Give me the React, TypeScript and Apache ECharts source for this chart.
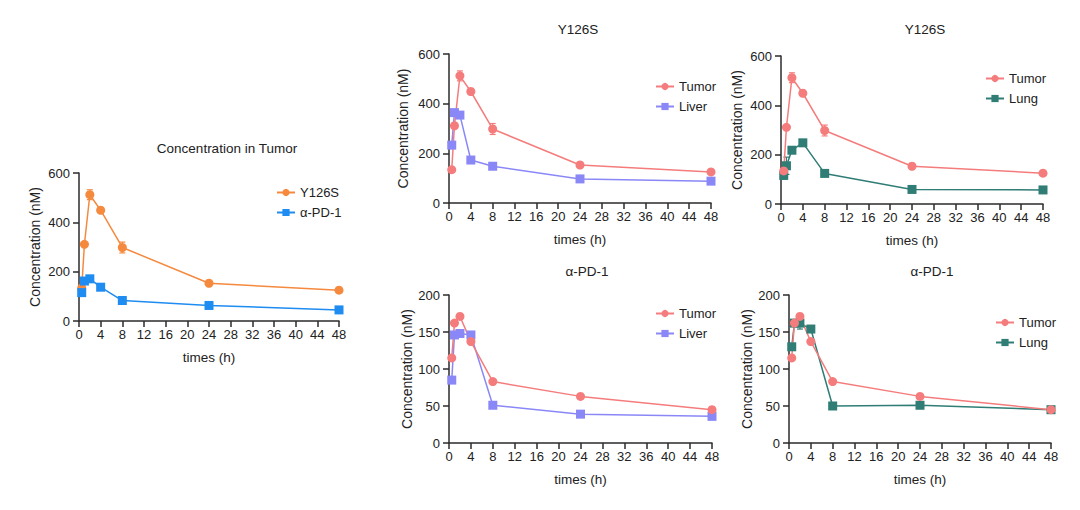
import React, { useEffect, useRef } from "react";
import * as echarts from "echarts";

const times = [0.5, 1, 2, 4, 8, 24, 48];
const xTicks = [0, 4, 8, 12, 16, 20, 24, 28, 32, 36, 40, 44, 48];

const y126sTumor = [134, 311, 512, 449, 298, 153, 125];
const y126sTumorErr = [8, 8, 20, 10, 22, 5, 5];
const pd1Tumor = [115, 162, 171, 137, 83, 63, 45];
const pd1TumorErr = [3, 3, 4, 3, 2, 2, 2];
const y126sLiver = [233, 364, 354, 173, 148, 97, 88];
const y126sLiverErr = [10, 8, 12, 6, 5, 3, 3];
const y126sLung = [116, 155, 218, 248, 124, 59, 57];
const y126sLungErr = [15, 35, 10, 8, 5, 3, 3];
const pd1Liver = [85, 146, 148, 146, 51, 39, 36];
const pd1LiverErr = [3, 3, 3, 3, 2, 2, 2];
const pd1Lung = [130, 162, 162, 154, 50, 51, 45];
const pd1LungErr = [4, 4, 8, 3, 2, 2, 2];

const titles = ["Concentration in Tumor", "Y126S", "Y126S", "α-PD-1", "α-PD-1"];

const C_ORANGE = "#F5893E";
const C_BLUE = "#1E8CF0";
const C_TUMOR = "#F57C7C";
const C_LIVER = "#8A88F7";
const C_LUNG = "#2F7D75";
const AXIS = "#2b2b2b";
const FONT = "Liberation Sans, Arial, Helvetica, sans-serif";

export default function App() {
  const ref = useRef<HTMLDivElement>(null);
  useEffect(() => {
    if (!ref.current) return;
    const chart = echarts.init(ref.current, undefined, { renderer: "svg" });

    const grids = [
      { left: 79, top: 173, width: 260, height: 148 },
      { left: 449, top: 54, width: 262, height: 149 },
      { left: 781, top: 56, width: 262, height: 148 },
      { left: 449, top: 295, width: 263, height: 148 },
      { left: 789, top: 295, width: 262, height: 148 },
    ];
    const yMax = [600, 600, 600, 200, 200];
    const yInt = [200, 200, 200, 50, 50];
    const yNameGap = [37, 39, 37, 35, 35];
    const titlePos = [
      [222, 136],
      [573, 17],
      [920, 17],
      [582, 259],
      [927, 259],
    ];
    const legendPos = [
      [271, 181],
      [650, 75],
      [980, 67],
      [650, 302],
      [990, 311],
    ];
    const legendData = [
      ["Y126S", "α-PD-1"],
      ["Tumor", "Liver"],
      ["Tumor", "Lung"],
      ["Tumor", "Liver"],
      ["Tumor", "Lung"],
    ];

    const axisCommon = {
      axisLine: { show: true, lineStyle: { color: AXIS, width: 1.5 } },
      axisTick: { show: true, length: 6, lineStyle: { color: AXIS, width: 1.5 } },
      splitLine: { show: false },
    };

    const xAxis = grids.map((_, i) => ({
      type: "value",
      gridIndex: i,
      min: 0,
      max: 48,
      interval: 4,
      ...axisCommon,
      axisLabel: {
        color: "#222",
        fontSize: 13,
        fontFamily: FONT,
        margin: 7,
        formatter: (v: number) => (xTicks.includes(v) ? String(v) : ""),
      },
      name: "times (h)",
      nameLocation: "middle",
      nameGap: 29,
      nameTextStyle: { color: "#222", fontSize: 13.5, fontFamily: FONT },
    }));

    const yAxis = grids.map((_, i) => ({
      type: "value",
      gridIndex: i,
      min: 0,
      max: yMax[i],
      interval: yInt[i],
      ...axisCommon,
      axisLabel: { color: "#222", fontSize: 13, fontFamily: FONT, margin: 9 },
      name: "Concentration (nM)",
      nameLocation: "middle",
      nameGap: yNameGap[i],
      nameTextStyle: { color: "#222", fontSize: 14, fontFamily: FONT },
    }));

    const errSeries = (idx: number, vals: number[], errs: number[], color: string, key: string) => ({
      type: "custom",
      name: "err-" + key,
      xAxisIndex: idx,
      yAxisIndex: idx,
      z: 1,
      silent: true,
      data: times.map((t, k) => [t, vals[k], errs[k]]),
      encode: { x: 0, y: 1 },
      renderItem: (params: any, api: any) => {
        const x = api.value(0);
        const y = api.value(1);
        const e = api.value(2);
        const top = api.coord([x, y + e]);
        const bot = api.coord([x, y - e]);
        const style = { stroke: color, lineWidth: 1.2 };
        return {
          type: "group",
          children: [
            { type: "line", shape: { x1: top[0], y1: top[1], x2: bot[0], y2: bot[1] }, style },
            { type: "line", shape: { x1: top[0] - 3, y1: top[1], x2: top[0] + 3, y2: top[1] }, style },
            { type: "line", shape: { x1: bot[0] - 3, y1: bot[1], x2: bot[0] + 3, y2: bot[1] }, style },
          ],
        };
      },
    });

    const lineSeries = (idx: number, name: string, vals: number[], color: string, symbol: string) => ({
      type: "line",
      name,
      xAxisIndex: idx,
      yAxisIndex: idx,
      z: 3,
      data: times.map((t, k) => [t, vals[k]]),
      symbol,
      symbolSize: 9,
      showAllSymbol: true,
      itemStyle: { color, borderWidth: 0 },
      lineStyle: { color, width: 1.5 },
    });

    const series: any[] = [
      errSeries(0, y126sTumor, y126sTumorErr, C_ORANGE, "a0"),
      errSeries(0, pd1Tumor, pd1TumorErr, C_BLUE, "b0"),
      lineSeries(0, "Y126S", y126sTumor, C_ORANGE, "circle"),
      lineSeries(0, "α-PD-1", pd1Tumor, C_BLUE, "rect"),

      errSeries(1, y126sLiver, y126sLiverErr, C_LIVER, "b1"),
      errSeries(1, y126sTumor, y126sTumorErr, C_TUMOR, "a1"),
      lineSeries(1, "Liver", y126sLiver, C_LIVER, "rect"),
      lineSeries(1, "Tumor", y126sTumor, C_TUMOR, "circle"),

      errSeries(2, y126sLung, y126sLungErr, C_LUNG, "b2"),
      errSeries(2, y126sTumor, y126sTumorErr, C_TUMOR, "a2"),
      lineSeries(2, "Lung", y126sLung, C_LUNG, "rect"),
      lineSeries(2, "Tumor", y126sTumor, C_TUMOR, "circle"),

      errSeries(3, pd1Liver, pd1LiverErr, C_LIVER, "b3"),
      errSeries(3, pd1Tumor, pd1TumorErr, C_TUMOR, "a3"),
      lineSeries(3, "Liver", pd1Liver, C_LIVER, "rect"),
      lineSeries(3, "Tumor", pd1Tumor, C_TUMOR, "circle"),

      errSeries(4, pd1Lung, pd1LungErr, C_LUNG, "b4"),
      errSeries(4, pd1Tumor, pd1TumorErr, C_TUMOR, "a4"),
      lineSeries(4, "Lung", pd1Lung, C_LUNG, "rect"),
      lineSeries(4, "Tumor", pd1Tumor, C_TUMOR, "circle"),
    ];

    chart.setOption({
      animation: false,
      backgroundColor: "#ffffff",
      title: titles.map((t, i) => ({
        text: t,
        left: titlePos[i][0],
        top: titlePos[i][1],
        textAlign: "center",
        textStyle: { color: "#222", fontSize: 13.5, fontWeight: "normal", fontFamily: FONT },
      })),
      legend: legendData.map((d, i) => ({
        data: d,
        left: legendPos[i][0],
        top: legendPos[i][1],
        orient: "vertical",
        itemWidth: 18,
        itemHeight: 9,
        itemGap: 7,
        selectedMode: false,
        textStyle: { color: "#222", fontSize: 13, fontFamily: FONT },
      })),
      grid: grids.map((g) => ({ ...g, containLabel: false })),
      xAxis,
      yAxis,
      series,
    });

    return () => chart.dispose();
  }, []);

  return (
    <div
      ref={ref}
      style={{ position: "absolute", left: 0, top: 0, width: 1080, height: 510, background: "#fff" }}
    />
  );
}
